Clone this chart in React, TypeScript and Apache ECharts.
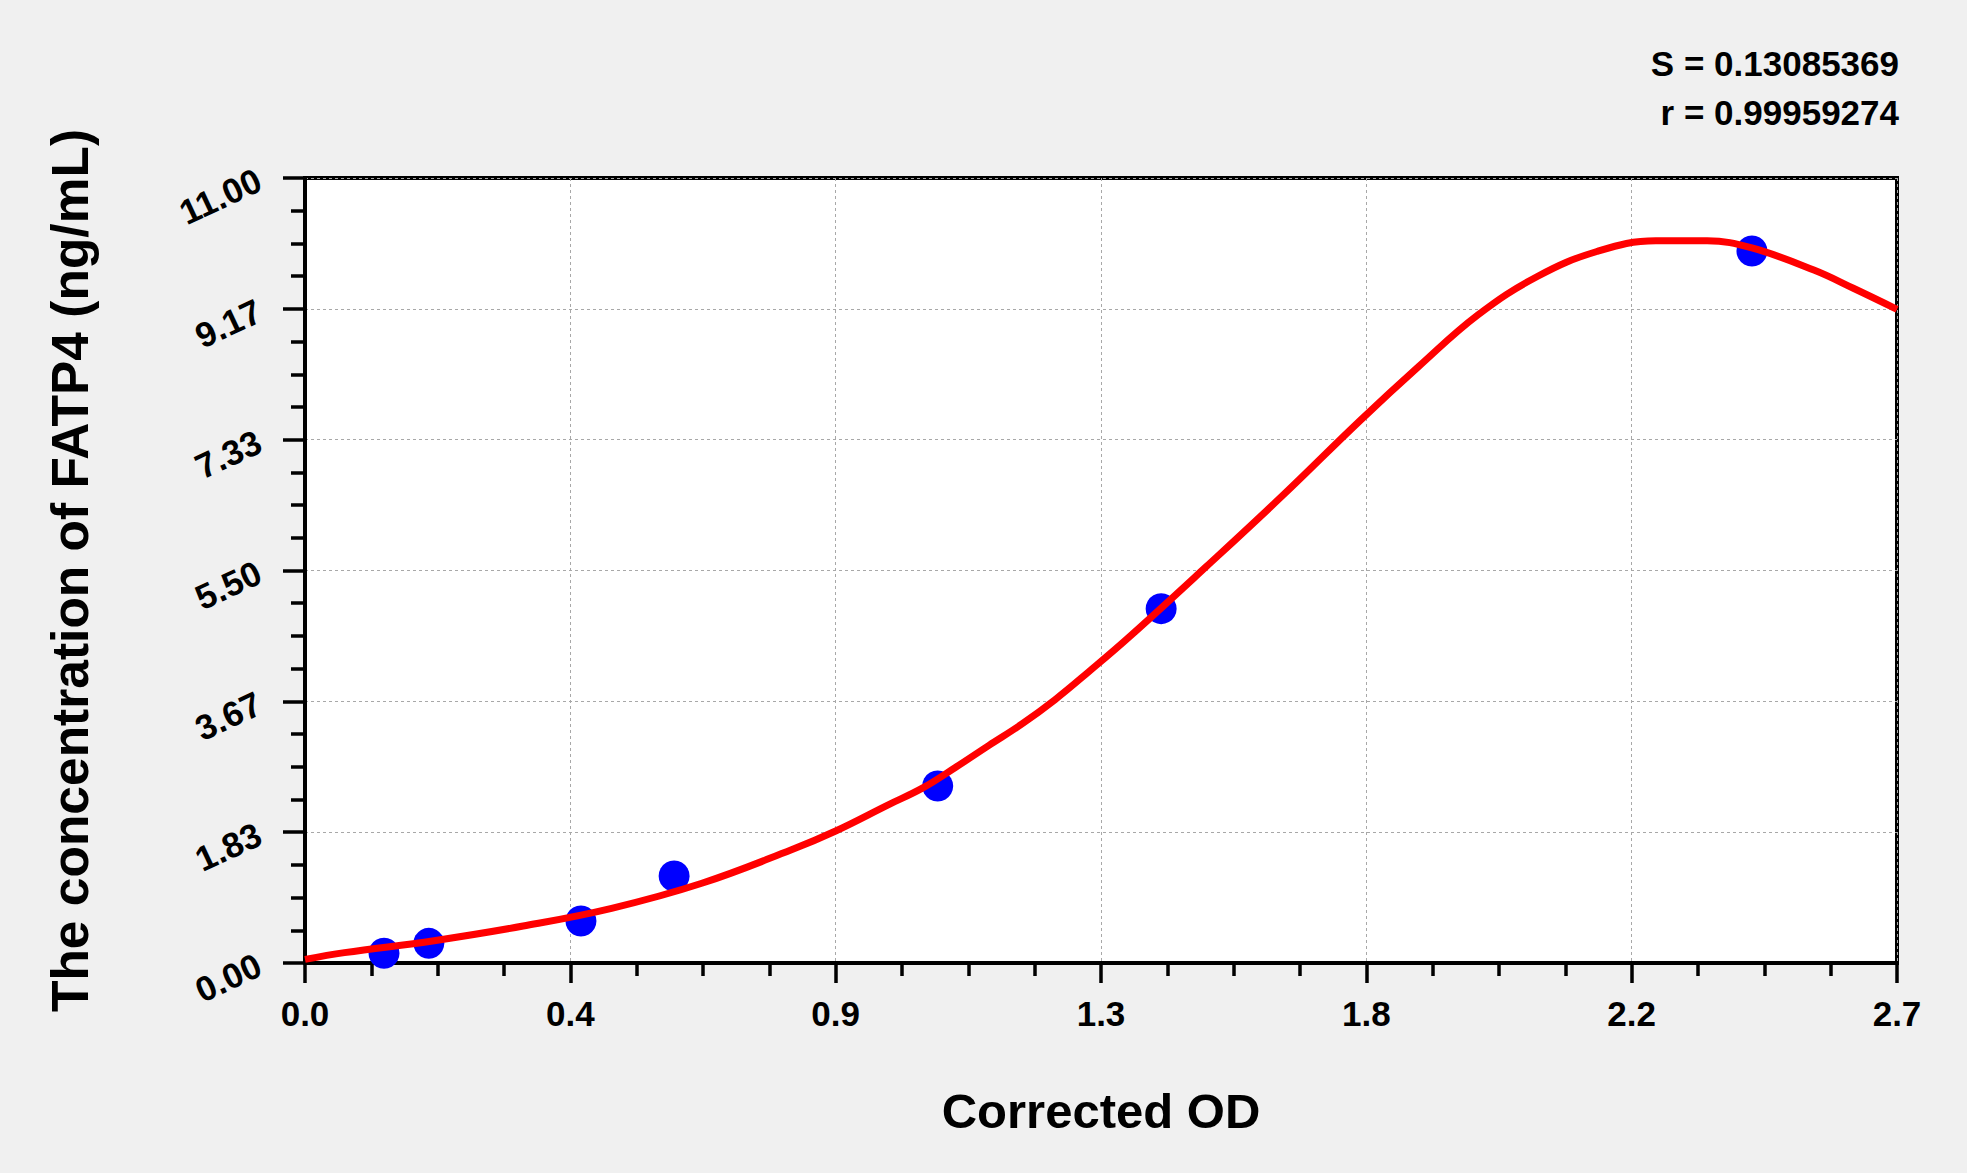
import React, { useEffect, useRef } from "react";
import * as echarts from "echarts";

const xTickLabels = ["0.0", "0.4", "0.9", "1.3", "1.8", "2.2", "2.7"];
const yTickLabels = ["0.00", "1.83", "3.67", "5.50", "7.33", "9.17", "11.00"];

const pointX = [0.134, 0.21, 0.468, 0.626, 1.073, 1.452, 2.454];
const pointY = [0.136, 0.276, 0.589, 1.219, 2.48, 4.965, 9.977];

const curveX = [
  0.0, 0.067, 0.219, 0.37, 0.52, 0.673, 0.824, 0.9, 0.99, 1.047, 1.103, 1.16,
  1.216, 1.272, 1.329, 1.398, 1.528, 1.658, 1.788, 1.889, 1.989, 2.09, 2.191,
  2.291, 2.378, 2.454, 2.559, 2.626, 2.7,
];
const curveY = [
  0.05, 0.145, 0.313, 0.518, 0.766, 1.117, 1.583, 1.85, 2.22, 2.45, 2.74, 3.05,
  3.35, 3.69, 4.08, 4.57, 5.55, 6.55, 7.59, 8.36, 9.08, 9.62, 9.97, 10.12,
  10.12, 10.02, 9.71, 9.455, 9.16,
];

const statLines = ["S = 0.13085369", "r = 0.99959274"];
const xTitle = "Corrected OD";
const yTitle = "The concentration of FATP4 (ng/mL)";

const FONT = "'Liberation Sans', Arial, sans-serif";

export default function App() {
  const ref = useRef<HTMLDivElement>(null);

  useEffect(() => {
    if (!ref.current) return;
    const chart = echarts.init(ref.current, null, { renderer: "svg" });
    const xInterval = 2.7 / 6;
    const yInterval = 11 / 6;
    chart.setOption({
      animation: false,
      backgroundColor: "#f0f0f0",
      grid: {
        left: 305,
        right: 70,
        top: 178,
        bottom: 210,
        show: true,
        backgroundColor: "#ffffff",
        borderColor: "#000000",
        borderWidth: 4,
        containLabel: false,
      },
      graphic: statLines.map((t, i) => ({
        type: "text",
        x: 1899,
        y: 63 + i * 49,
        style: {
          text: t,
          fill: "#000",
          font: `bold 35px ${FONT}`,
          textAlign: "right",
          textVerticalAlign: "middle",
        },
      })),
      xAxis: {
        type: "value",
        min: 0,
        max: 2.7,
        interval: xInterval,
        name: xTitle,
        nameLocation: "middle",
        nameGap: 123,
        nameTextStyle: {
          color: "#000",
          fontFamily: FONT,
          fontWeight: "bold",
          fontSize: 49,
        },
        axisLine: { show: true, lineStyle: { color: "#000", width: 4 } },
        axisTick: {
          show: true,
          length: 20,
          lineStyle: { color: "#000", width: 3.5 },
        },
        minorTick: {
          show: true,
          splitNumber: 4,
          length: 13,
          lineStyle: { color: "#000", width: 3.5 },
        },
        axisLabel: {
          color: "#000",
          fontFamily: FONT,
          fontWeight: "bold",
          fontSize: 35,
          margin: 33,
          formatter: (v: number) => xTickLabels[Math.round(v / xInterval)] ?? "",
        },
        splitLine: {
          show: true,
          lineStyle: { color: "#a8a8a8", width: 1, type: [3, 3] },
        },
        minorSplitLine: { show: false },
      },
      yAxis: {
        type: "value",
        min: 0,
        max: 11,
        interval: yInterval,
        name: yTitle,
        nameLocation: "middle",
        nameGap: 209,
        nameTextStyle: {
          color: "#000",
          fontFamily: FONT,
          fontWeight: "bold",
          fontSize: 51.5,
        },
        axisLine: { show: true, lineStyle: { color: "#000", width: 4 } },
        axisTick: {
          show: true,
          length: 22,
          lineStyle: { color: "#000", width: 3.5 },
        },
        minorTick: {
          show: true,
          splitNumber: 4,
          length: 14,
          lineStyle: { color: "#000", width: 3.5 },
        },
        axisLabel: {
          color: "#000",
          fontFamily: FONT,
          fontWeight: "bold",
          fontSize: 35,
          margin: 46,
          rotate: 25,
          formatter: (v: number) => yTickLabels[Math.round(v / yInterval)] ?? "",
        },
        splitLine: {
          show: true,
          lineStyle: { color: "#a8a8a8", width: 1, type: [3, 3] },
        },
      },
      series: [
        {
          type: "scatter",
          z: 2,
          symbol: "circle",
          symbolSize: 31,
          itemStyle: { color: "#0000ff", opacity: 1 },
          data: pointX.map((x, i) => [x, pointY[i]]),
        },
        {
          type: "line",
          z: 3,
          smooth: 0.4,
          showSymbol: false,
          symbol: "none",
          lineStyle: { color: "#ff0000", width: 7 },
          data: curveX.map((x, i) => [x, curveY[i]]),
        },
      ],
    });
    return () => chart.dispose();
  }, []);

  return (
    <div
      ref={ref}
      style={{ position: "absolute", left: 0, top: 0, width: 1967, height: 1173 }}
    />
  );
}
